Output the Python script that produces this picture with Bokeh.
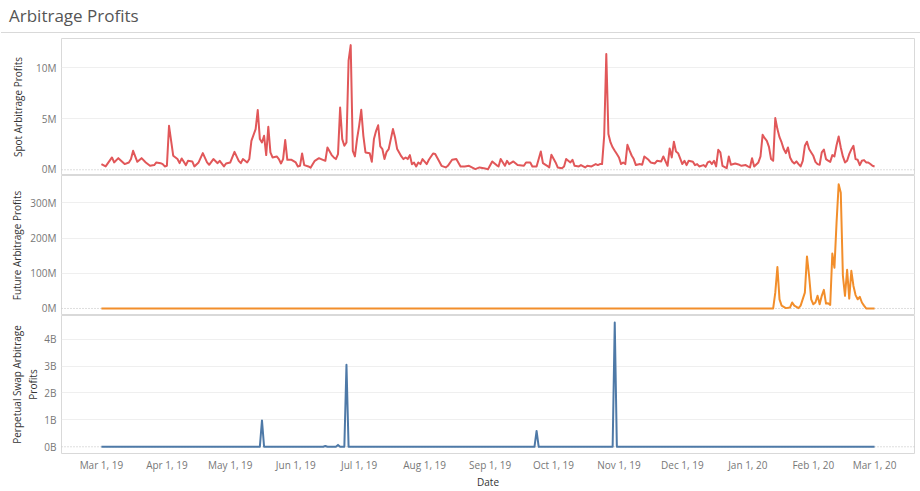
from datetime import datetime, timedelta

from bokeh.plotting import figure
from bokeh.models import Range1d, FixedTicker, PrintfTickFormatter, Span, Div
from bokeh.layouts import column
from bokeh.embed import file_html
from bokeh.resources import INLINE

# ---------------- data ----------------
START = datetime(2019, 3, 1)

tick_dates = ["2019-03-01", "2019-04-01", "2019-05-01", "2019-06-01", "2019-07-01",
              "2019-08-01", "2019-09-01", "2019-10-01", "2019-11-01", "2019-12-01",
              "2020-01-01", "2020-02-01", "2020-03-01"]
tick_labels = ["Mar 1, 19", "Apr 1, 19", "May 1, 19", "Jun 1, 19", "Jul 1, 19",
               "Aug 1, 19", "Sep 1, 19", "Oct 1, 19", "Nov 1, 19", "Dec 1, 19",
               "Jan 1, 20", "Feb 1, 20", "Mar 1, 20"]

# day offset from Mar 1, 2019 and spot arbitrage profit (millions)
spot_day = [0, 2, 5, 6, 8, 11, 13, 14, 15, 17, 19, 21, 23, 25, 26, 28, 29, 30, 31, 32,
            34, 36, 37, 38, 40, 41, 43, 44, 46, 48, 50, 51, 53, 55, 56, 58, 59, 61, 63, 65,
            66, 67, 69, 70, 71, 73, 74, 75, 76, 77, 78, 79, 80, 81, 83, 84, 85, 86, 87, 88,
            90, 92, 93, 94, 95, 96, 98, 99, 101, 103, 104, 106, 107, 109, 110, 111, 112, 113, 114, 115,
            116, 117, 118, 119, 120, 121, 122, 123, 124, 125, 127, 128, 129, 130, 131, 132, 133, 134, 135, 136,
            138, 139, 140, 142, 143, 144, 145, 146, 147, 148, 149, 150, 151, 152, 154, 155, 157, 158, 160, 161,
            163, 164, 166, 168, 170, 172, 174, 177, 179, 181, 183, 185, 187, 188, 189, 191, 192, 193, 195, 197,
            200, 201, 203, 204, 206, 208, 209, 211, 212, 213, 215, 216, 218, 219, 220, 222, 223, 224, 226, 227,
            229, 230, 232, 234, 235, 236, 237, 238, 239, 240, 241, 242, 243, 244, 245, 246, 247, 248, 249, 250,
            251, 252, 253, 255, 256, 257, 259, 260, 262, 263, 265, 266, 268, 269, 270, 271, 272, 273, 275, 276,
            277, 278, 280, 281, 282, 283, 285, 286, 287, 288, 289, 290, 291, 292, 293, 294, 296, 297, 298, 300,
            302, 303, 305, 306, 307, 308, 309, 311, 312, 313, 314, 315, 316, 317, 318, 319, 320, 321, 322, 323,
            324, 325, 326, 327, 328, 329, 330, 331, 332, 333, 334, 335, 336, 337, 338, 339, 340, 341, 342, 343,
            344, 345, 346, 347, 348, 349, 350, 351, 352, 353, 354, 355, 356, 357, 358, 359, 360, 361, 362, 363,
            364, 365, 366]
spot_musd = [0.56, 0.33, 1.21, 0.72, 1.14, 0.56, 0.72, 1.05, 1.86, 0.78, 1.14, 0.72, 0.39, 0.46, 0.72, 0.65, 0.56, 0.33, 0.39, 4.31,
             1.37, 1.05, 0.65, 1.11, 0.46, 0.88, 0.82, 0.33, 0.72, 1.63, 0.72, 0.49, 1.05, 0.65, 0.88, 0.33, 0.62, 0.72, 1.76, 0.88,
             0.65, 1.05, 0.72, 1.05, 2.84, 3.99, 5.85, 3.01, 2.68, 3.33, 1.44, 4.22, 1.70, 1.21, 1.31, 1.05, 0.62, 1.05, 2.91, 0.98,
             0.98, 0.72, 0.33, 0.39, 1.60, 0.46, 0.33, 0.20, 0.88, 1.14, 1.05, 0.88, 2.19, 1.44, 1.21, 1.05, 1.54, 6.11, 3.01, 2.35,
             2.68, 10.69, 12.22, 1.86, 1.31, 3.01, 4.31, 5.88, 3.33, 1.70, 1.63, 0.78, 3.01, 3.80, 4.36, 2.29, 2.03, 1.05, 1.76, 2.03,
             3.99, 3.17, 2.03, 1.31, 1.05, 1.21, 1.05, 1.44, 0.55, 0.70, 0.33, 0.72, 0.56, 1.05, 0.56, 0.98, 1.60, 1.54, 0.78, 0.39,
             0.23, 0.39, 0.98, 1.05, 0.33, 0.33, 0.39, 0.07, 0.23, 0.16, 0.05, 0.82, 0.46, 0.33, 1.05, 0.39, 0.88, 0.56, 0.82, 0.46,
             0.39, 0.72, 0.72, 0.33, 0.33, 1.80, 0.65, 0.39, 0.23, 1.47, 0.72, 0.23, 0.16, 0.33, 1.05, 0.72, 0.98, 0.39, 0.33, 0.46,
             0.23, 0.39, 0.33, 0.56, 0.46, 0.56, 0.56, 3.33, 11.34, 3.50, 2.68, 2.20, 1.86, 1.54, 1.21, 0.56, 0.72, 0.56, 2.45, 1.90,
             1.40, 1.05, 0.46, 0.56, 0.49, 1.31, 0.98, 0.72, 0.62, 0.88, 0.82, 1.31, 0.39, 2.09, 1.21, 2.75, 1.80, 1.63, 0.56, 0.88,
             0.46, 0.88, 0.78, 0.46, 0.56, 0.33, 0.46, 0.29, 0.72, 0.82, 0.56, 0.88, 0.33, 1.96, 1.70, 0.39, 0.16, 1.31, 0.49, 0.62,
             0.49, 0.39, 0.46, 0.33, 0.23, 1.14, 0.33, 0.72, 1.31, 3.43, 3.10, 2.84, 2.25, 1.05, 0.88, 5.07, 3.99, 3.20, 2.68, 2.03,
             1.63, 2.19, 1.21, 0.82, 0.62, 0.82, 0.55, 0.33, 0.88, 2.35, 2.75, 2.03, 1.70, 1.37, 0.78, 0.56, 0.49, 1.70, 1.99, 1.05,
             0.90, 0.78, 1.44, 1.31, 2.40, 3.27, 2.19, 1.31, 0.72, 0.88, 1.54, 2.00, 2.35, 1.05, 0.98, 0.46, 0.88, 0.95, 0.72, 0.72,
             0.56, 0.39, 0.33]

# future arbitrage profit (millions)
future_day = [0, 318, 319, 320, 321, 322, 324, 326, 327, 328, 330, 331, 333, 334, 335, 336, 337, 338, 339, 340,
              341, 342, 343, 344, 345, 346, 347, 348, 349, 350, 351, 352, 353, 354, 355, 356, 357, 358, 359, 360,
              361, 362, 366]
future_musd = [0, 0, 45, 118, 26, 8, 1, 3, 17, 8, 1, 8, 45, 148, 93, 26, 12, 17, 36, 12,
               36, 53, 14, 15, 10, 156, 116, 244, 353, 329, 93, 36, 110, 28, 107, 64, 38, 26, 33, 17,
               8, 0, 0]

# perpetual swap arbitrage profit (billions)
perp_day = [0, 75, 76, 77, 105, 106, 107, 111, 112, 113, 115, 116, 117, 205, 206, 207, 242, 243, 244, 366]
perp_busd = [0, 0, 0.98, 0, 0, 0.03, 0, 0, 0.07, 0, 0, 3.05, 0, 0, 0.59, 0, 0, 4.62, 0, 0]

# ---------------- styling ----------------
FONT = "Open Sans"
W = 920
LEFT = 65
RIGHT = 2
RED = "#e15759"
ORANGE = "#f28e2b"
BLUE = "#4e79a7"
SEP = "#d9d9d9"


def to_dates(days):
    return [START + timedelta(days=d) for d in days]


x_range = Range1d(START - timedelta(days=18.9), START + timedelta(days=384.9))


def make_panel(height, yr, yticks, fmt, label, label_standoff, bottom, with_x):
    p = figure(width=W, height=height, x_range=x_range, y_range=Range1d(*yr),
               x_axis_type="datetime", x_axis_location="below" if with_x else None,
               output_backend="svg", toolbar_location=None, title=None,
               min_border_left=LEFT, min_border_right=RIGHT, min_border_top=0,
               min_border_bottom=bottom)
    p.background_fill_color = "white"
    p.border_fill_color = "white"
    p.outline_line_color = SEP
    p.outline_line_width = 1

    ax = p.yaxis[0]
    ax.ticker = FixedTicker(ticks=yticks)
    ax.formatter = PrintfTickFormatter(format=fmt)
    ax.axis_line_color = None
    ax.major_tick_line_color = None
    ax.minor_tick_line_color = None
    ax.major_tick_out = 0
    ax.major_tick_in = 0
    ax.minor_tick_out = 0
    ax.major_label_standoff = 5
    ax.major_label_text_font = FONT
    ax.major_label_text_font_size = "10px"
    ax.major_label_text_color = "#777777"
    ax.axis_label = label
    ax.axis_label_text_font = FONT
    ax.axis_label_text_font_size = "10px"
    ax.axis_label_text_font_style = "normal"
    ax.axis_label_text_color = "#333333"
    ax.axis_label_standoff = label_standoff

    p.xgrid.visible = False
    p.ygrid.ticker = FixedTicker(ticks=[t for t in yticks if t != 0])
    p.ygrid.grid_line_color = "#efefef"

    zero = Span(location=0, dimension="width", line_color="#bdbdbd",
                line_dash="1 2", line_width=1, level="underlay")
    p.add_layout(zero)
    return p


p1 = make_panel(137, (-0.56, 12.87), [0, 5, 10], "%dM",
                "Spot Arbitrage Profits", 8, 0, False)
p1.line(to_dates(spot_day), spot_musd, line_color=RED, line_width=2, line_join="round")

p2 = make_panel(140, (-20, 378), [0, 100, 200, 300], "%dM",
                "Future Arbitrage Profits", 3, 0, False)
p2.line(to_dates(future_day), future_musd, line_color=ORANGE, line_width=2, line_join="round")

p3 = make_panel(178, (-0.25, 4.88), [0, 1, 2, 3, 4], "%dB",
                "Perpetual Swap Arbitrage\nProfits", 1, 40, True)
p3.line(to_dates(perp_day), perp_busd, line_color=BLUE, line_width=2, line_join="round")

tick_ms = [int((datetime.strptime(d, "%Y-%m-%d") - datetime(1970, 1, 1)).total_seconds() * 1000)
           for d in tick_dates]
xa = p3.xaxis[0]
xa.ticker = FixedTicker(ticks=tick_ms)
xa.major_label_overrides = {ms: lab for ms, lab in zip(tick_ms, tick_labels)}
xa.axis_line_color = None
xa.major_tick_line_color = None
xa.minor_tick_line_color = None
xa.major_tick_out = 0
xa.major_tick_in = 0
xa.minor_tick_out = 0
xa.major_label_standoff = 4
xa.major_label_text_font = FONT
xa.major_label_text_font_size = "10px"
xa.major_label_text_color = "#777777"
xa.axis_label = "Date"
xa.axis_label_text_font = FONT
xa.axis_label_text_font_size = "10px"
xa.axis_label_text_font_style = "normal"
xa.axis_label_text_color = "#333333"
xa.axis_label_standoff = 0

title = Div(text='<div style="font-family:\'Open Sans\';font-size:17px;color:#555555;'
                 'line-height:22px;padding:7px 0 0 8px;">Arbitrage Profits</div>',
            width=W, height=36,
            styles={"border-top": "1px solid #e6e6e6",
                    "border-bottom": "1px solid " + SEP, "box-sizing": "border-box",
                    "overflow": "hidden"})

# the layout spans the whole 920x491 window (the page's 8px body margin is cancelled)
layout = column(title, p1, p2, p3, spacing=0, margin=(-8, -4, -8, -4))

open("out.html", "w").write(file_html(layout, INLINE))
